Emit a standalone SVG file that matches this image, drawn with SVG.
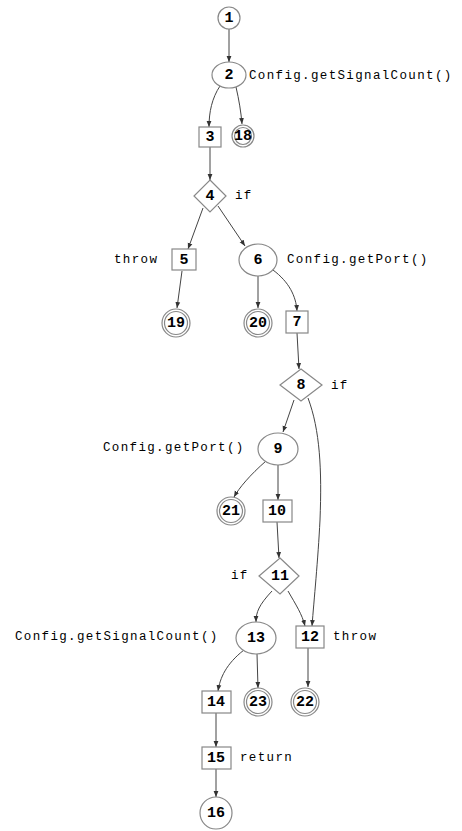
<svg xmlns="http://www.w3.org/2000/svg" width="462" height="831" viewBox="0 0 462 831">
<style>
.n{fill:#fff;stroke:#888;stroke-width:1.2}
.num{font-family:"Liberation Mono",monospace;font-weight:bold;font-size:15px;text-anchor:middle;dominant-baseline:central;fill:#000}
.lbl{font-family:"Liberation Mono",monospace;font-size:12.5px;letter-spacing:1.35px;fill:#000;dominant-baseline:central}
.e{fill:none;stroke:#444;stroke-width:1;marker-end:url(#a)}
</style>
<defs>
<marker id="a" viewBox="0 0 10 10" refX="10" refY="5" markerWidth="6" markerHeight="6" orient="auto" markerUnits="userSpaceOnUse"><path d="M0,1 L10,5 L0,9 z" fill="#333"/></marker>
</defs>
<rect width="462" height="831" fill="#fff"/>
<g id="edges">
<path class="e" d="M229,29 L229,62"/>
<path class="e" d="M220,86 C212,98 209,112 209,127"/>
<path class="e" d="M236,87 C239,100 241,112 242,124"/>
<path class="e" d="M210,147 L210,180"/>
<path class="e" d="M203,208 L188,249"/>
<path class="e" d="M218,206 L245,246"/>
<path class="e" d="M182,271 L177,308"/>
<path class="e" d="M258,276 L258,308"/>
<path class="e" d="M273,270 C289,282 296,296 297,311"/>
<path class="e" d="M297,333 L299,369"/>
<path class="e" d="M294,400 L283,432"/>
<path class="e" d="M308,398 C320,430 322,470 320,520 C318,560 314,600 312,626"/>
<path class="e" d="M266,461 C250,475 239,488 234,497"/>
<path class="e" d="M278,465 L278,500"/>
<path class="e" d="M277,522 L279,558"/>
<path class="e" d="M272,591 C259,605 256,612 256,622"/>
<path class="e" d="M288,591 C296,605 302,614 305,626"/>
<path class="e" d="M244,650 C226,664 220,678 218,691"/>
<path class="e" d="M257,654 L258,688"/>
<path class="e" d="M308,648 L308,687"/>
<path class="e" d="M216,713 L216,747"/>
<path class="e" d="M216,769 L216,797"/>
</g>
<g id="n1"><circle class="n" cx="229" cy="18" r="11"/><text class="num" x="229" y="18">1</text></g>
<g id="n2"><ellipse class="n" cx="229" cy="75" rx="17" ry="13"/><text class="num" x="229" y="75">2</text><text class="lbl" x="249" y="76">Config.getSignalCount()</text></g>
<g id="n3"><rect class="n" x="199" y="127" width="22" height="20"/><text class="num" x="210" y="137">3</text></g>
<g id="n18"><circle class="n" cx="243" cy="136" r="11"/><circle class="n" cx="243" cy="136" r="8.5"/><text class="num" x="243" y="136">18</text></g>
<g id="n4"><polygon class="n" points="210,180 226,196 210,212 194,196"/><text class="num" x="210" y="196">4</text><text class="lbl" x="235" y="196">if</text></g>
<g id="n5"><rect class="n" x="172" y="249" width="24" height="21"/><text class="num" x="184" y="260">5</text><text class="lbl" x="114" y="260">throw</text></g>
<g id="n6"><ellipse class="n" cx="258" cy="260" rx="19" ry="16"/><text class="num" x="258" y="260">6</text><text class="lbl" x="287" y="260">Config.getPort()</text></g>
<g id="n19"><circle class="n" cx="176" cy="323" r="14"/><circle class="n" cx="176" cy="323" r="11.5"/><text class="num" x="176" y="323">19</text></g>
<g id="n20"><circle class="n" cx="258" cy="323" r="14"/><circle class="n" cx="258" cy="323" r="11.5"/><text class="num" x="258" y="323">20</text></g>
<g id="n7"><rect class="n" x="286" y="311" width="22" height="22"/><text class="num" x="297" y="322">7</text></g>
<g id="n8"><polygon class="n" points="301,369 322,385 301,401 280,385"/><text class="num" x="301" y="385">8</text><text class="lbl" x="331" y="386">if</text></g>
<g id="n9"><ellipse class="n" cx="278" cy="449" rx="20" ry="16"/><text class="num" x="278" y="449">9</text><text class="lbl" x="103" y="448">Config.getPort()</text></g>
<g id="n21"><circle class="n" cx="231" cy="511" r="14"/><circle class="n" cx="231" cy="511" r="11.5"/><text class="num" x="231" y="511">21</text></g>
<g id="n10"><rect class="n" x="263" y="500" width="29" height="22"/><text class="num" x="277" y="511">10</text></g>
<g id="n11"><polygon class="n" points="280,558 299,576 280,594 259,576"/><text class="num" x="280" y="576">11</text><text class="lbl" x="231" y="576">if</text></g>
<g id="n13"><ellipse class="n" cx="256" cy="638" rx="20" ry="16"/><text class="num" x="256" y="638">13</text><text class="lbl" x="15" y="637">Config.getSignalCount()</text></g>
<g id="n12"><rect class="n" x="296" y="626" width="28" height="22"/><text class="num" x="310" y="637">12</text><text class="lbl" x="333" y="637">throw</text></g>
<g id="n14"><rect class="n" x="202" y="691" width="29" height="22"/><text class="num" x="216" y="702">14</text></g>
<g id="n23"><circle class="n" cx="258" cy="702" r="14"/><circle class="n" cx="258" cy="702" r="11.5"/><text class="num" x="258" y="702">23</text></g>
<g id="n22"><circle class="n" cx="305" cy="702" r="14"/><circle class="n" cx="305" cy="702" r="11.5"/><text class="num" x="305" y="702">22</text></g>
<g id="n15"><rect class="n" x="202" y="747" width="29" height="22"/><text class="num" x="216" y="758">15</text><text class="lbl" x="240" y="758">return</text></g>
<g id="n16"><circle class="n" cx="216" cy="813" r="16"/><text class="num" x="216" y="813">16</text></g>
</svg>
